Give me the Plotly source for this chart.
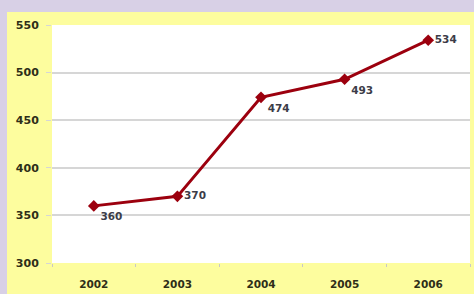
import plotly.graph_objects as go

years = ["2002", "2003", "2004", "2005", "2006"]
values = [360, 370, 474, 493, 534]
labels = ["360", "370", "474", "493", "534"]
label_pos = ["bottom right", "middle right", "bottom right", "bottom right", "middle right"]
y_ticks = [300, 350, 400, 450, 500, 550]

W, H = 474, 294
L, R, T, B = 52, 4, 25, 31
pw, ph = W - L - R, H - T - B

fig = go.Figure()
fig.add_trace(go.Scatter(
    x=years, y=values, mode="lines+markers+text",
    text=labels, textposition=label_pos,
    textfont=dict(family="DejaVu Sans", size=10.5, color="#3c3c48", weight="bold"),
    line=dict(color="#9c000e", width=3),
    marker=dict(symbol="diamond", size=9, color="#9c000e"),
    cliponaxis=False,
))

# yellow panel
fig.add_shape(type="rect", xref="paper", yref="paper",
              x0=(7 - L) / pw, x1=1 + R / pw, y0=-B / ph, y1=1 + (T - 12) / ph,
              fillcolor="#fdfd9e", line_width=0, layer="below")
# white plot area
fig.add_shape(type="rect", xref="paper", yref="paper",
              x0=0, x1=1, y0=0, y1=1,
              fillcolor="white", line_width=0, layer="below")

fig.update_layout(
    width=W, height=H,
    margin=dict(l=L, r=R, t=T, b=B),
    paper_bgcolor="#d8d0e6",
    plot_bgcolor="white",
    showlegend=False,
    font=dict(family="DejaVu Sans", size=10.5, color="#2e2e18"),
)
fig.update_xaxes(type="category", showgrid=False, ticks="outside", ticklen=3,
                 tickson="boundaries", tickcolor="#c8c8c8", ticklabelstandoff=13,
                 tickfont=dict(size=10.5, family="DejaVu Sans", weight="bold", color="#2e2e18"),
                 showline=False, range=[-0.5, 4.5])
fig.update_yaxes(range=[300, 550], tickvals=y_ticks, showgrid=True, gridcolor="#d6d6d6",
                 gridwidth=1.5, zeroline=False, ticks="outside", ticklen=5, tickcolor="#d6d6d6",
                 ticklabelstandoff=5,
                 tickfont=dict(size=11, family="DejaVu Sans", weight="bold", color="#2e2e18"))
fig.write_html("out.html", config={"displayModeBar": False},
               post_script="document.body.style.margin='0';document.body.style.background='#d8d0e6';")
